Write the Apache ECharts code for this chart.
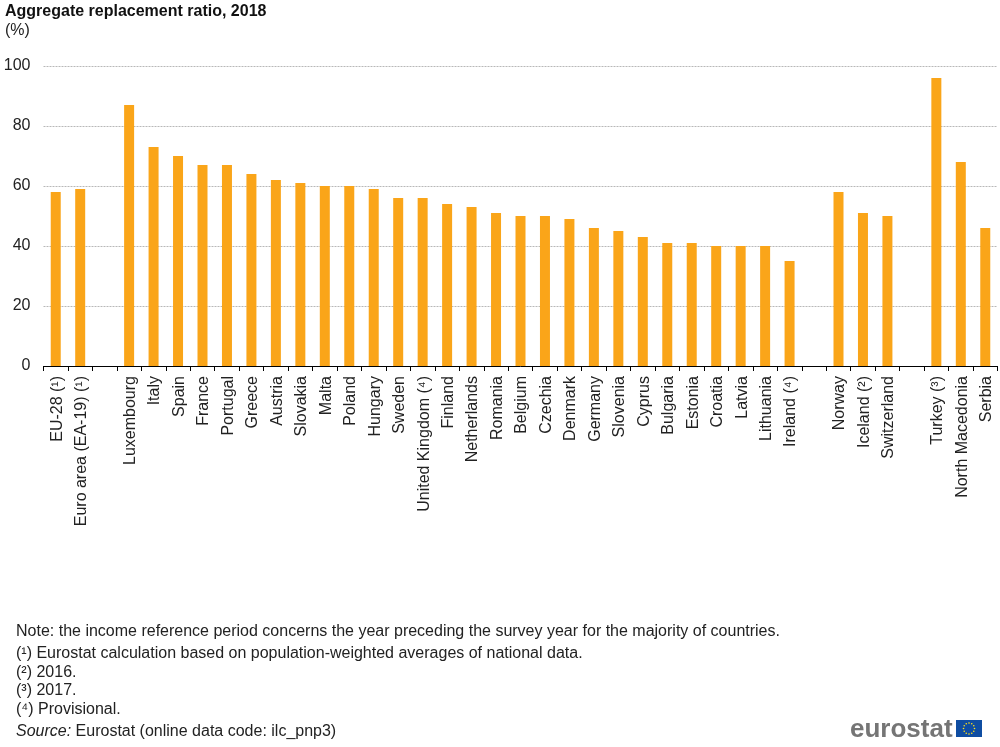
<!DOCTYPE html>
<html>
<head>
<meta charset="utf-8">
<title>Aggregate replacement ratio, 2018</title>
<script src="https://cdn.jsdelivr.net/npm/echarts@6/dist/echarts.min.js"></script>
<style>
html, body { margin: 0; padding: 0; background: #fff; }
#chart { width: 1000px; height: 747px; }
</style>
</head>
<body>
<div id="chart"></div>
<script>
// empty names are the gaps between country groups
var categories = ['EU-28 (¹)', 'Euro area (EA-19) (¹)', '', 'Luxembourg', 'Italy', 'Spain', 'France', 'Portugal', 'Greece', 'Austria',
    'Slovakia', 'Malta', 'Poland', 'Hungary', 'Sweden', 'United Kingdom (⁴)', 'Finland', 'Netherlands', 'Romania', 'Belgium',
    'Czechia', 'Denmark', 'Germany', 'Slovenia', 'Cyprus', 'Bulgaria', 'Estonia', 'Croatia', 'Latvia', 'Lithuania', 'Ireland (⁴)',
    '', 'Norway', 'Iceland (²)', 'Switzerland', '', 'Turkey (³)', 'North Macedonia', 'Serbia'];
var ratio = [58, 59, null, 87, 73, 70, 67, 67, 64, 62,
    61, 60, 60, 59, 56, 56, 54, 53, 51, 50,
    50, 49, 46, 45, 43, 41, 41, 40, 40, 40, 35,
    null, 58, 51, 50, null, 96, 68, 46];
var yTicks = [0, 20, 40, 60, 80, 100];
var noteLines = [
    'Note: the income reference period concerns the year preceding the survey year for the majority of countries.',
    '(¹) Eurostat calculation based on population-weighted averages of national data.',
    '(²) 2016.',
    '(³) 2017.',
    '(⁴) Provisional.'
];
var noteY = [631, 653, 672, 690, 709];

var FONT = '"Liberation Sans", Arial, sans-serif';
var myChart = echarts.init(document.getElementById('chart'), null, {renderer: 'canvas'});

var graphics = noteLines.map(function (line, i) {
    return {
        type: 'text', left: 16, top: noteY[i] - 7,
        style: {text: line, font: '16px ' + FONT, fill: '#222'}
    };
});
graphics.push({
    type: 'text', left: 16, top: 724,
    style: {
        text: '{i|Source:} Eurostat (online data code: ilc_pnp3)',
        font: '16px ' + FONT, fill: '#222',
        rich: {i: {font: 'italic 16px ' + FONT, fill: '#222'}}
    }
});
// eurostat logo
graphics.push({
    type: 'text', left: 850, top: 717,
    style: {text: 'eurostat', font: 'bold 26px ' + FONT, fill: '#757575'}
});
graphics.push({
    type: 'rect', shape: {x: 956, y: 720, width: 26, height: 17},
    style: {fill: '#0f4da2'}
});
for (var s = 0; s < 12; s++) {
    var a = s * Math.PI / 6;
    graphics.push({
        type: 'circle',
        shape: {cx: 969 + 5.5 * Math.cos(a), cy: 728.5 + 5.5 * Math.sin(a), r: 0.8},
        style: {fill: '#ffe11a'}
    });
}

var option = {
    animation: false,
    backgroundColor: '#fff',
    title: {
        text: 'Aggregate replacement ratio, 2018',
        subtext: '(%)',
        left: 5, top: 4, padding: 0, itemGap: 3,
        textStyle: {fontFamily: FONT, fontSize: 16, fontWeight: 'bold', color: '#111'},
        subtextStyle: {fontFamily: FONT, fontSize: 16, color: '#222'}
    },
    grid: {left: 43.5, right: 2.5, top: 66, bottom: 381},
    xAxis: {
        type: 'category',
        data: categories,
        axisLine: {lineStyle: {color: '#000', width: 1}},
        axisTick: {show: true, alignWithLabel: false, interval: 0, length: 5, lineStyle: {color: '#000'}},
        axisLabel: {
            interval: 0, rotate: 90, margin: 10,
            formatter: function (name) {
                return name ? '{l|' + name + '}' : '';
            },
            // top padding nudges the rotated labels to the right, under their bars
            rich: {l: {padding: [3, 0, 0, 0], fontFamily: FONT, fontSize: 16, color: '#222'}}
        }
    },
    yAxis: {
        type: 'value',
        min: yTicks[0],
        max: yTicks[yTicks.length - 1],
        interval: yTicks[1] - yTicks[0],
        axisLine: {show: false},
        axisTick: {show: false},
        axisLabel: {margin: 13, fontFamily: FONT, fontSize: 16, color: '#222'},
        splitLine: {lineStyle: {color: '#b8b8b8', width: 1, type: [2, 1]}}
    },
    series: [{
        type: 'bar',
        data: ratio,
        barWidth: 10,
        itemStyle: {color: '#faa519'}
    }],
    graphic: graphics
};
myChart.setOption(option);
</script>
</body>
</html>
